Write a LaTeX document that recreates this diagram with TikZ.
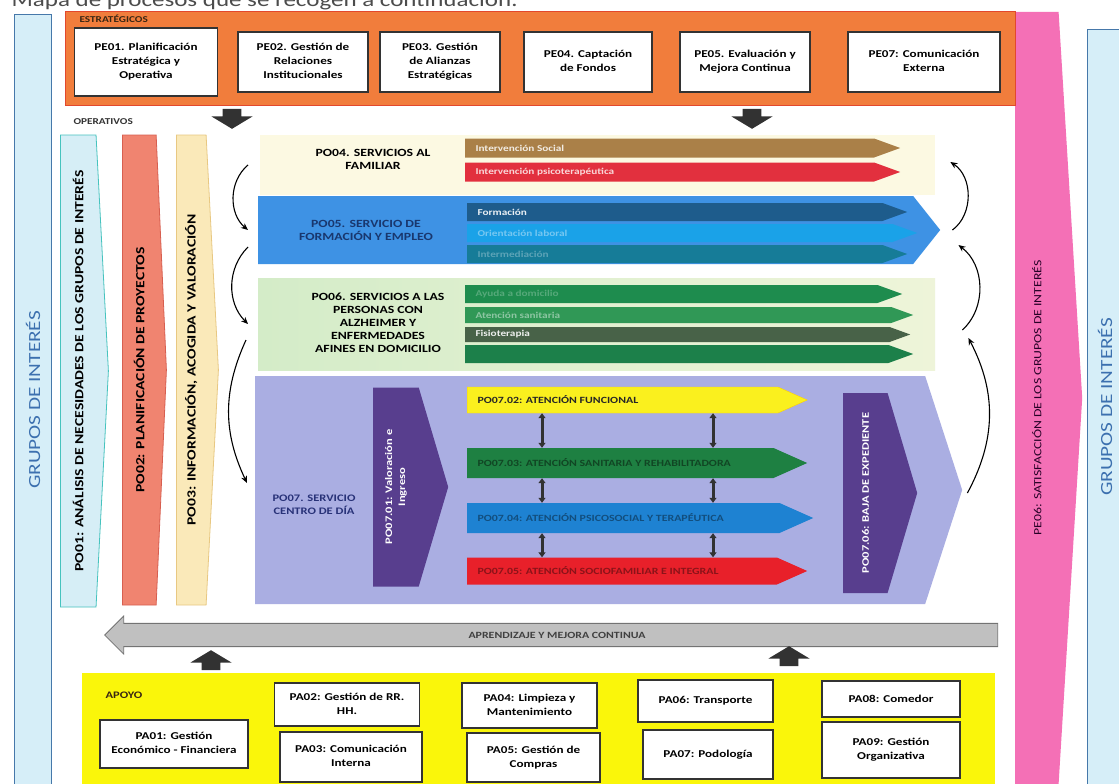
\documentclass[tikz,border=0pt]{standalone}
\usepackage{graphicx}
\usepackage{fontspec}
\setmainfont{Carlito}[FakeStretch=1.25]
\usetikzlibrary{shapes.symbols,shapes.arrows,arrows.meta}

\definecolor{estratorange}{RGB}{241,125,60}
\definecolor{estratedge}{RGB}{226,72,45}
\definecolor{gipink}{RGB}{244,112,182}
\definecolor{giblue}{RGB}{214,238,248}
\definecolor{giedge}{RGB}{70,120,170}
\definecolor{gitext}{RGB}{60,112,175}
\definecolor{pocyan}{RGB}{214,238,246}
\definecolor{pocyanedge}{RGB}{70,195,190}
\definecolor{posalmon}{RGB}{240,132,112}
\definecolor{posalmonedge}{RGB}{215,95,80}
\definecolor{pocream}{RGB}{250,233,185}
\definecolor{pocreamedge}{RGB}{232,200,130}
\definecolor{fambg}{RGB}{252,249,226}
\definecolor{brownarr}{RGB}{170,128,72}
\definecolor{redarr}{RGB}{226,48,62}
\definecolor{formblue}{RGB}{62,146,228}
\definecolor{formtext}{RGB}{25,55,110}
\definecolor{darkbluearr}{RGB}{30,92,140}
\definecolor{lightbluearr}{RGB}{26,162,232}
\definecolor{tealarr}{RGB}{22,124,152}
\definecolor{persbg}{RGB}{212,236,200}
\definecolor{greenA}{RGB}{30,140,78}
\definecolor{greenB}{RGB}{48,152,86}
\definecolor{greenC}{RGB}{72,98,72}
\definecolor{greenD}{RGB}{28,128,74}
\definecolor{cdlav}{RGB}{170,174,226}
\definecolor{cdtext}{RGB}{40,50,120}
\definecolor{cdpurple}{RGB}{88,62,142}
\definecolor{cdyellow}{RGB}{250,240,30}
\definecolor{cdgreen}{RGB}{30,128,66}
\definecolor{cdblue}{RGB}{30,130,210}
\definecolor{cdred}{RGB}{232,32,42}
\definecolor{mejoragrey}{RGB}{192,192,192}
\definecolor{apoyoyellow}{RGB}{250,246,10}
\definecolor{darkarrow}{RGB}{50,50,50}

\begin{document}
\begin{tikzpicture}[x=1pt,y=-1pt,font=\bfseries\fontsize{10.5}{14}\selectfont,
  pebox/.style={shape=rectangle,draw=black!80,line width=1.4pt,fill=white,inner sep=1pt},
  gicol/.style={shape=rectangle,draw=giedge,line width=1pt,fill=giblue,rotate=90,
    text=gitext,font=\fontsize{17}{20}\selectfont},
  pocol/.style={shape=signal,signal to=east,anchor=west,line width=0.8pt,inner sep=0pt,
    font=\bfseries\fontsize{12.5}{14}\selectfont},
  band/.style={shape=rectangle,inner sep=0pt},
  bandchev/.style={shape=signal,signal to=east,anchor=west,inner sep=0pt},
  bandlabel/.style={font=\bfseries\fontsize{11}{13}\selectfont},
  inarrow/.style={shape=signal,signal to=east,signal pointer angle=40,anchor=west,
    inner sep=0pt,minimum height=19},
  cdarrow/.style={inarrow,signal pointer angle=48},
  inlbl/.style={anchor=west,xshift=7pt,font=\bfseries\fontsize{9}{10}\selectfont},
  purplebox/.style={shape=signal,signal to=east,signal pointer angle=147,anchor=west,
    fill=cdpurple,text=white,inner sep=0pt,font=\bfseries\fontsize{10}{13}\selectfont},
  blockarrow/.style={shape=single arrow,fill=darkarrow,inner xsep=9pt,inner ysep=0pt,
    single arrow head extend=11pt,single arrow tip angle=118,minimum height=20,minimum width=41},
  curvarrow/.style={-{Stealth[length=7pt,width=6pt]},line width=1.1pt},
  vdouble/.style={{Triangle[length=5pt,width=7pt]}-{Triangle[length=5pt,width=7pt]},
    line width=3pt,draw=darkarrow}
]

  \useasboundingbox (0,0) rectangle (1119,784);
  \fill[white] (0,0) rectangle (1119,784);

  \draw (8,7) node [anchor=base west,font=\fontsize{20}{24}\selectfont,text=black!70] (titulo)
  {Mapa de procesos que se recogen a continuación:};

  % grupos de interes a ambos lados
  \draw (33,400) node [gicol,minimum width=770,minimum height=37] (gruposL) {GRUPOS DE INTERÉS};
  \draw (1105,407) node [gicol,minimum width=754,minimum height=36] (gruposR) {GRUPOS DE INTERÉS};

  \draw (1015,398) node [shape=signal,signal to=east,signal pointer angle=173,anchor=west,
    fill=gipink,inner sep=0pt,minimum width=67,minimum height=772,
    font=\fontsize{11}{12}\selectfont,text=black!70!violet] (satisf)
  {\rotatebox{90}{PE06: SATISFACCIÓN DE LOS GRUPOS DE INTERÉS}};

  % estrategicos
  \draw (540,58.5) node [band,fill=estratorange,draw=estratedge,line width=1pt,
    minimum width=950,minimum height=93] (estrat) {};
  \draw (76,19) node [anchor=west,font=\bfseries\fontsize{9}{10}\selectfont,text=black!70!brown] (estratlabel)
  {ESTRATÉGICOS};

  \draw (146,62) node [pebox,minimum width=143,minimum height=68] (pe01)
  {\begin{tabular}{c}PE01. Planificación\\Estratégica y\\Operativa\end{tabular}};
  \draw (303,62) node [pebox,minimum width=130,minimum height=60] (pe02)
  {\begin{tabular}{c}PE02. Gestión de\\Relaciones\\Institucionales\end{tabular}};
  \draw (440,62) node [pebox,minimum width=120,minimum height=60] (pe03)
  {\begin{tabular}{c}PE03. Gestión\\de Alianzas\\Estratégicas\end{tabular}};
  \draw (588,62) node [pebox,minimum width=128,minimum height=60] (pe04)
  {\begin{tabular}{c}PE04. Captación\\de Fondos\end{tabular}};
  \draw (745,62) node [pebox,minimum width=130,minimum height=60] (pe05)
  {\begin{tabular}{c}PE05. Evaluación y\\Mejora Continua\end{tabular}};
  \draw (924,62) node [pebox,minimum width=152,minimum height=60] (pe07)
  {\begin{tabular}{c}PE07: Comunicación\\Externa\end{tabular}};

  \draw (232,116) node [blockarrow,shape border rotate=270] (bajaL) {};
  \draw (752,116) node [blockarrow,shape border rotate=270] (bajaR) {};

  % operativos
  \draw (70,122) node [anchor=west,font=\bfseries\fontsize{9}{10}\selectfont,text=black!80] (operlabel)
  {OPERATIVOS};

  \draw (60,371) node [pocol,fill=pocyan,draw=pocyanedge,signal pointer angle=174,
    minimum width=48,minimum height=472] (po01)
  {\rotatebox{90}{PO01: ANÁLISIS DE NECESIDADES DE LOS GRUPOS DE INTERÉS}};
  \draw (122,370) node [pocol,fill=posalmon,draw=posalmonedge,signal pointer angle=175,
    minimum width=44,minimum height=470] (po02)
  {\rotatebox{90}{PO02: PLANIFICACIÓN DE PROYECTOS}};
  \draw (176,370) node [pocol,fill=pocream,draw=pocreamedge,signal pointer angle=174,
    minimum width=42,minimum height=470] (po03)
  {\rotatebox{90}{PO03: INFORMACIÓN, ACOGIDA Y VALORACIÓN}};

  % bandas de servicios
  \draw (260,165) node [band,anchor=west,fill=fambg,minimum width=675,minimum height=60] (famband) {};
  \draw (258,230) node [bandchev,fill=formblue,signal pointer angle=103,
    minimum width=682,minimum height=68] (formband) {};
  \draw (258,324) node [band,anchor=west,left color=persbg,right color=persbg!35!fambg,
    minimum width=677,minimum height=92] (persband) {};
  \draw (255,490) node [bandchev,fill=cdlav,signal pointer angle=144,
    minimum width=707,minimum height=228] (cdband) {};

  \draw (373,160) node [bandlabel] (famlabel)
  {\begin{tabular}{c}PO04. SERVICIOS AL\\FAMILIAR\end{tabular}};
  \draw (366,231) node [bandlabel,text=formtext] (formlabel)
  {\begin{tabular}{c}PO05. SERVICIO DE\\FORMACIÓN Y EMPLEO\end{tabular}};
  \draw (378,324) node [bandlabel] (perslabel)
  {\begin{tabular}{c}PO06. SERVICIOS A LAS\\PERSONAS CON\\ALZHEIMER Y\\ENFERMEDADES\\AFINES EN DOMICILIO\end{tabular}};
  \draw (314,505) node [bandlabel,text=cdtext,font=\bfseries\fontsize{10}{13}\selectfont] (cdlabel)
  {\begin{tabular}{c}PO07. SERVICIO\\CENTRO DE DÍA\end{tabular}};

  \draw (465,148) node [inarrow,fill=brownarr,minimum width=435,
    label={[inlbl,text=white!85!brownarr]west:{Intervención Social}}] (intsocial) {};
  \draw (465,172) node [inarrow,fill=redarr,minimum width=435,
    label={[inlbl,text=white!80!redarr]west:{Intervención psicoterapéutica}}] (intpsico) {};

  \draw (467,212) node [inarrow,fill=darkbluearr,minimum width=440,minimum height=18,
    label={[inlbl,text=white!90!darkbluearr]west:{Formación}}] (formacion) {};
  \draw (467,233) node [inarrow,fill=lightbluearr,minimum width=450,minimum height=18,
    label={[inlbl,text=white!40!lightbluearr]west:{Orientación laboral}}] (orienta) {};
  \draw (467,254) node [inarrow,fill=tealarr,minimum width=440,minimum height=18,
    label={[inlbl,text=white!30!tealarr]west:{Intermediación}}] (intermed) {};

  \draw (465,294) node [inarrow,fill=greenA,minimum width=437,minimum height=18,
    label={[inlbl,text=white!25!greenA]west:{Ayuda a domicilio}}] (ayudadom) {};
  \draw (465,315) node [inarrow,fill=greenB,minimum width=448,minimum height=16,
    label={[inlbl,text=white!45!greenB]west:{Atención sanitaria}}] (atsanit) {};
  \draw (465,334.5) node [inarrow,fill=greenC,minimum width=445,minimum height=15,
    label={[inlbl,text=white!90!greenC]west:{Fisioterapia}}] (fisio) {};
  \draw (465,354) node [inarrow,fill=greenD,minimum width=448,minimum height=18] (terapia) {};

  \draw (373,487) node [purplebox,minimum width=75,minimum height=199] (ingreso)
  {\rotatebox{90}{\begin{tabular}{c}PO07.01: Valoración e\\Ingreso\end{tabular}}};
  \draw (843,493) node [purplebox,minimum width=74,minimum height=200] (bajaexp)
  {\rotatebox{90}{PO07.06: BAJA DE EXPEDIENTE}};

  \draw (467,400) node [cdarrow,fill=cdyellow,draw=yellow!70!orange,minimum width=340,minimum height=26,
    label={[inlbl,text=black!85,font=\bfseries\fontsize{9.5}{10}\selectfont]west:{PO07.02: ATENCIÓN FUNCIONAL}}] (cdyel) {};
  \draw (467,463) node [cdarrow,fill=cdgreen,minimum width=340,minimum height=30,
    label={[inlbl,text=black!45!cdgreen,font=\bfseries\fontsize{9.5}{10}\selectfont]west:{PO07.03: ATENCIÓN SANITARIA Y REHABILITADORA}}] (cdgrn) {};
  \draw (467,518) node [cdarrow,fill=cdblue,minimum width=346,minimum height=30,
    label={[inlbl,text=black!40!cdblue,font=\bfseries\fontsize{9.5}{10}\selectfont]west:{PO07.04: ATENCIÓN PSICOSOCIAL Y TERAPÉUTICA}}] (cdblu) {};
  \draw (467,571) node [cdarrow,fill=cdred,minimum width=340,minimum height=27,
    label={[inlbl,text=black!40!cdred,font=\bfseries\fontsize{9.5}{10}\selectfont]west:{PO07.05: ATENCIÓN SOCIOFAMILIAR E INTEGRAL}}] (cdrd) {};

  \coordinate (colA) at (542,0);
  \coordinate (colB) at (713,0);
  \draw[vdouble] (cdyel.south -| colA) -- (cdgrn.north -| colA);
  \draw[vdouble] (cdyel.south -| colB) -- (cdgrn.north -| colB);
  \draw[vdouble] (cdgrn.south -| colA) -- (cdblu.north -| colA);
  \draw[vdouble] (cdgrn.south -| colB) -- (cdblu.north -| colB);
  \draw[vdouble] (cdblu.south -| colA) -- (cdrd.north -| colA);
  \draw[vdouble] (cdblu.south -| colB) -- (cdrd.north -| colB);

  % flechas curvas entre servicios
  \draw[curvarrow] ([xshift=-12pt]famband.west) to[bend right=50] ([xshift=-10pt]formband.west);
  \draw[curvarrow] ([xshift=-10pt,yshift=-17pt]formband.west) to[bend right=45] ([xshift=-10pt]persband.west);
  \draw[curvarrow] ([xshift=-12pt,yshift=-16pt]persband.west) to[bend right=25] ([xshift=-8pt,yshift=7pt]cdband.west);
  \draw[curvarrow] ([xshift=12pt]formband.east) to[bend right=55] ([xshift=15pt,yshift=3pt]famband.east);
  \draw[curvarrow] ([xshift=27pt,yshift=-6pt]persband.east) to[bend right=50] ([xshift=18pt,yshift=-15pt]formband.east);
  \draw[curvarrow] ([xshift=5pt,yshift=-3pt]cdband.east) to[bend right=28] ([xshift=33pt,yshift=-14pt]persband.east);

  % aprendizaje
  \draw (557,635) node [shape=single arrow,shape border rotate=180,fill=mejoragrey,draw=black!55,
    line width=0.8pt,single arrow head extend=7pt,minimum height=893,minimum width=38,
    inner xsep=0pt,inner ysep=7.5pt,
    font=\bfseries\fontsize{9.5}{10}\selectfont,text=black!75] (mejora)
  {APRENDIZAJE Y MEJORA CONTINUA};

  \draw (211,663) node [blockarrow,shape border rotate=90] (subeL) {};
  \draw (789,659) node [blockarrow,shape border rotate=90] (subeR) {};

  % apoyo
  \draw (538.5,728.5) node [band,fill=apoyoyellow,minimum width=913,minimum height=111] (apoyo) {};
  \draw (102,695) node [anchor=west,font=\bfseries\fontsize{10}{12}\selectfont,text=black!70!brown] (apoyolabel)
  {APOYO};

  \draw (174,744) node [pebox,minimum width=148,minimum height=48] (pa01)
  {\begin{tabular}{c}PA01: Gestión\\Económico - Financiera\end{tabular}};
  \draw (347,704.5) node [pebox,minimum width=145,minimum height=43] (pa02)
  {\begin{tabular}{c}PA02: Gestión de RR.\\HH.\end{tabular}};
  \draw (351,757) node [pebox,minimum width=142,minimum height=50] (pa03)
  {\begin{tabular}{c}PA03: Comunicación\\Interna\end{tabular}};
  \draw (529.5,705.5) node [pebox,minimum width=135,minimum height=45] (pa04)
  {\begin{tabular}{c}PA04: Limpieza y\\Mantenimiento\end{tabular}};
  \draw (533.5,757.5) node [pebox,minimum width=133,minimum height=49] (pa05)
  {\begin{tabular}{c}PA05: Gestión de\\Compras\end{tabular}};
  \draw (705.5,701) node [pebox,minimum width=135,minimum height=42] (pa06)
  {PA06: Transporte};
  \draw (708,754.5) node [pebox,minimum width=130,minimum height=49] (pa07)
  {PA07: Podología};
  \draw (891,699) node [pebox,minimum width=138,minimum height=36] (pa08)
  {PA08: Comedor};
  \draw (891,750) node [pebox,minimum width=138,minimum height=56] (pa09)
  {\begin{tabular}{c}PA09: Gestión\\Organizativa\end{tabular}};

\end{tikzpicture}
\end{document}
